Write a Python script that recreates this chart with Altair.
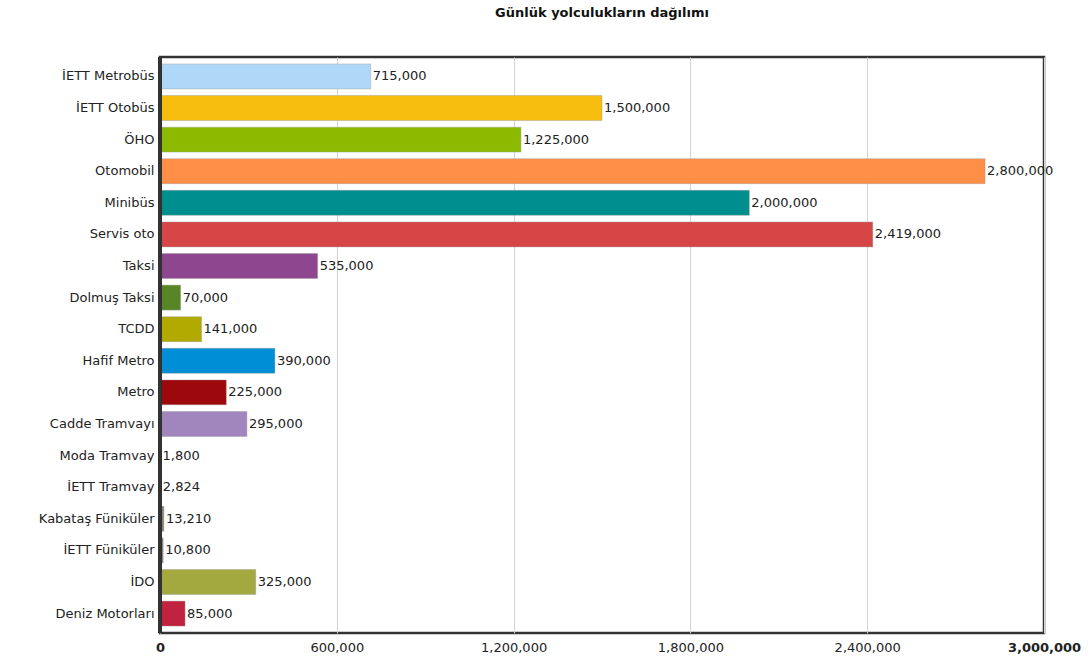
import altair as alt
import pandas as pd

categories = ["İETT Metrobüs", "İETT Otobüs", "ÖHO", "Otomobil", "Minibüs", "Servis oto",
              "Taksi", "Dolmuş Taksi", "TCDD", "Hafif Metro", "Metro", "Cadde Tramvayı",
              "Moda Tramvay", "İETT Tramvay", "Kabataş Füniküler", "İETT Füniküler", "İDO",
              "Deniz Motorları"]
values = [715000, 1500000, 1225000, 2800000, 2000000, 2419000, 535000, 70000, 141000,
          390000, 225000, 295000, 1800, 2824, 13210, 10800, 325000, 85000]
colors = ["#afd8f8", "#f6bd0f", "#8bba00", "#ff8e46", "#008e8e", "#d64646", "#8e468e",
          "#588526", "#b3aa00", "#008ed6", "#9d080d", "#a186be", "#cc6600", "#fdc689",
          "#8a8270", "#8a8270", "#a3a83f", "#c0223f"]
tick_values = [0, 600000, 1200000, 1800000, 2400000, 3000000]

df = pd.DataFrame({"cat": categories, "val": values})

FONT = "DejaVu Sans"
FS = 13

x_axis = alt.Axis(values=tick_values, labelExpr="format(datum.value, ',')", grid=True,
                  gridColor="#d4d4d4", ticks=False, domain=False, labelPadding=8,
                  labelFontSize=FS, labelFont=FONT, labelColor="#222", labelFlush=False,
                  labelFontWeight={"expr": "datum.value == 0 || datum.value == 3000000 ? 'bold' : 'normal'"})
x_enc = alt.X("val:Q", title=None, scale=alt.Scale(domain=[0, 3000000], nice=False), axis=x_axis)

base = alt.Chart(df).encode(
    y=alt.Y("cat:N", sort=categories, title=None,
            scale=alt.Scale(paddingInner=0.21, paddingOuter=0.22),
            axis=alt.Axis(ticks=False, domain=False, labelPadding=6, labelFontSize=FS,
                          labelFont=FONT, labelColor="#222")),
    x=x_enc,
)

bars = base.mark_bar(stroke="#999", strokeWidth=0.6, strokeOpacity=0.7).encode(
    color=alt.Color("cat:N", scale=alt.Scale(domain=categories, range=colors), legend=None),
)

labels = base.mark_text(align="left", baseline="middle", dx=2, fontSize=FS, font=FONT,
                        color="#222").encode(
    text=alt.Text("val:Q", format=","),
)

left_edge = alt.Chart(df).mark_rule(color="#333", strokeWidth=2.5).encode(
    x=alt.datum(0), y=alt.value(0), y2=alt.value(576)
)

chart = alt.layer(bars, labels, left_edge).properties(
    width=884, height=576,
    title=alt.TitleParams("Günlük yolculukların dağılımı", fontSize=13, fontWeight="bold",
                          font=FONT, anchor="middle", offset=36, color="#111"),
    autosize=alt.AutoSizeParams(type="none"),
    padding={"left": 160, "top": 57, "right": 46, "bottom": 26},
    background="white",
).configure_view(stroke="#333", strokeWidth=2.5)

chart.save("out.html", embed_options={"renderer": "svg", "actions": False})
